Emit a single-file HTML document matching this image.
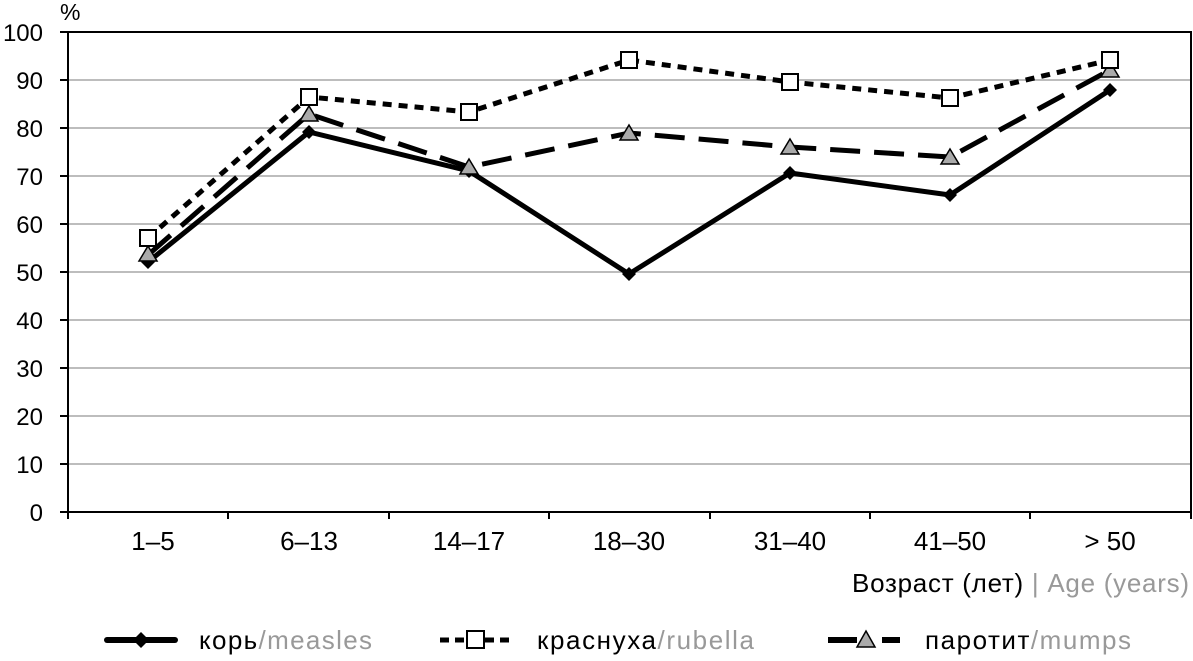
<!DOCTYPE html>
<html><head><meta charset="utf-8"><style>
body{margin:0;background:#fff}
svg text{font-family:"Liberation Sans","DejaVu Sans",sans-serif}
</style></head><body>
<svg width="1193" height="656" viewBox="0 0 1193 656" xmlns="http://www.w3.org/2000/svg">
<g stroke="#bdbdbd" stroke-width="2">
<line x1="68" x2="1191" y1="80" y2="80"/><line x1="68" x2="1191" y1="128" y2="128"/>
<line x1="68" x2="1191" y1="176" y2="176"/><line x1="68" x2="1191" y1="224" y2="224"/>
<line x1="68" x2="1191" y1="272" y2="272"/><line x1="68" x2="1191" y1="320" y2="320"/>
<line x1="68" x2="1191" y1="368" y2="368"/><line x1="68" x2="1191" y1="416" y2="416"/>
<line x1="68" x2="1191" y1="464" y2="464"/>
</g>
<g stroke="#000" stroke-width="2" fill="none">
<path d="M68 32 H1191 V512 M68 32 V512 H1191"/>
<path d="M60 32H68M60 80H68M60 128H68M60 176H68M60 224H68M60 272H68M60 320H68M60 368H68M60 416H68M60 464H68M60 512H68"/>
<path d="M68 512v7M228 512v7M389 512v7M549 512v7M710 512v7M870 512v7M1030 512v7M1191 512v7"/>
</g>
<g font-size="24" text-anchor="end" fill="#000">
<text x="43" y="41">100</text><text x="43" y="89">90</text><text x="43" y="137">80</text>
<text x="43" y="185">70</text><text x="43" y="233">60</text><text x="43" y="281">50</text>
<text x="43" y="329">40</text><text x="43" y="377">30</text><text x="43" y="425">20</text>
<text x="43" y="473">10</text><text x="43" y="521">0</text>
</g>
<text x="60" y="20" font-size="23">%</text>
<g font-size="26" text-anchor="middle">
<text x="153" y="550">1–5</text><text x="309" y="550">6–13</text><text x="469" y="550">14–17</text>
<text x="629" y="550">18–30</text><text x="790" y="550">31–40</text><text x="950" y="550">41–50</text>
<text x="1110" y="550">&gt; 50</text>
</g>
<text x="1189" y="592" font-size="26" text-anchor="end" textLength="337"><tspan fill="#000">Возраст (лет) </tspan><tspan fill="#999">| Age (years)</tspan></text>
<polyline fill="none" stroke="#000" stroke-width="5" stroke-dasharray="9,7" points="148,238 309,97 469,112 629,60 790,82 950,98 1110,60"/>
<polyline fill="none" stroke="#000" stroke-width="5" stroke-dasharray="30,14" points="148,255 309,114 469,167 629,133 790,147 950,157 1110,70"/>
<polyline fill="none" stroke="#000" stroke-width="5" points="148,262 309,132 469,171 629,274 790,173 950,195 1110,90"/>
<g fill="#000">
<path d="M148 255l7 7-7 7-7-7z"/><path d="M309 125l7 7-7 7-7-7z"/><path d="M469 164l7 7-7 7-7-7z"/>
<path d="M629 267l7 7-7 7-7-7z"/><path d="M790 166l7 7-7 7-7-7z"/><path d="M950 188l7 7-7 7-7-7z"/>
<path d="M1110 83l7 7-7 7-7-7z"/>
</g>
<g fill="#aaa" stroke="#000" stroke-width="1.5">
<path d="M148 246l9 15h-18z"/><path d="M309 106l9 15h-18z"/><path d="M469 159l9 15h-18z"/>
<path d="M629 125l9 15h-18z"/><path d="M790 139l9 15h-18z"/><path d="M950 149l9 15h-18z"/>
<path d="M1110 62l9 15h-18z"/>
</g>
<g fill="#fff" stroke="#000" stroke-width="2">
<rect x="140" y="230" width="16" height="16"/><rect x="301" y="89" width="16" height="16"/>
<rect x="461" y="104" width="16" height="16"/><rect x="621" y="52" width="16" height="16"/>
<rect x="782" y="74" width="16" height="16"/><rect x="942" y="90" width="16" height="16"/>
<rect x="1102" y="52" width="16" height="16"/>
</g>
<line x1="107" x2="175" y1="640" y2="640" stroke="#000" stroke-width="6" stroke-linecap="round"/>
<path d="M141 632l8 8-8 8-8-8z" fill="#000"/>
<text x="199" y="649" font-size="26" textLength="173"><tspan fill="#000">корь</tspan><tspan fill="#999">/measles</tspan></text>
<line x1="440" x2="512" y1="640" y2="640" stroke="#000" stroke-width="5" stroke-dasharray="9,6"/>
<rect x="467" y="631" width="17" height="17" fill="#fff" stroke="#000" stroke-width="2"/>
<text x="537" y="649" font-size="26" textLength="217"><tspan fill="#000">краснуха</tspan><tspan fill="#999">/rubella</tspan></text>
<line x1="828" x2="857" y1="640" y2="640" stroke="#000" stroke-width="6"/>
<line x1="882" x2="900" y1="640" y2="640" stroke="#000" stroke-width="6"/>
<path d="M866 631l9 16h-18z" fill="#aaa" stroke="#000" stroke-width="1.5"/>
<text x="925" y="649" font-size="26" textLength="206"><tspan fill="#000">паротит</tspan><tspan fill="#999">/mumps</tspan></text>
</svg>
</body></html>
